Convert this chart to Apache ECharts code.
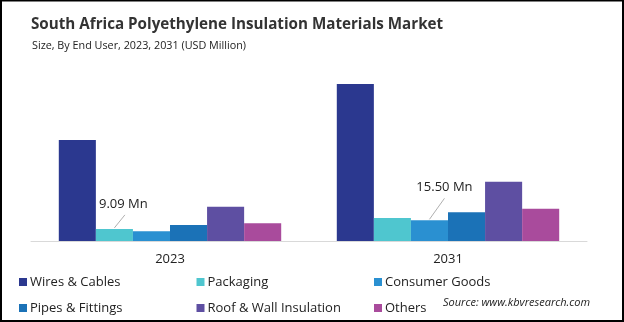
<!DOCTYPE html>
<html>
<head>
<meta charset="utf-8">
<script src="https://cdn.jsdelivr.net/npm/echarts@6/dist/echarts.min.js"></script>
<style>
  html, body { margin: 0; padding: 0; background: #fff; }
  #chart { width: 624px; height: 322px; }
</style>
</head>
<body>
<div id="chart"></div>
<script>
// Market size by end user (USD Million)
const years = ['2023', '2031'];
const segments = ['Wires & Cables', 'Packaging', 'Consumer Goods', 'Pipes & Fittings', 'Roof & Wall Insulation', 'Others'];
const wiresCables = [75.7, 117.8];
const packaging = [9.09, 17.3];
const consumerGoods = [7.3, 15.50];
const pipesFittings = [12.0, 21.6];
const roofWall = [25.6, 44.4];
const others = [13.3, 24.1];
// Callouts: [year index, segment index]
const callouts = [[0, 1], [1, 2]];

const seriesValues = [wiresCables, packaging, consumerGoods, pipesFittings, roofWall, others];
const colors = ['#2B388F', '#4FC6CF', '#2A90D1', '#1B72B7', '#5E4FA2', '#A94B9C'];
const FONT = '"Open Sans", "Noto Sans", sans-serif';
const GAP = 0.2;

// leader line end / text centre relative to the bar top
const calloutStyle = [
  { line: [10.5, -14], text: [9, -25] },
  { line: [15, -22], text: [15, -33] }
];

const barSeries = segments.map((name, i) => ({
  name: name,
  type: 'bar',
  data: seriesValues[i],
  barGap: '0%',
  barCategoryGap: (GAP * 100) + '%',
  itemStyle: { color: colors[i] },
  emphasis: { disabled: true }
}));

const calloutSeries = {
  type: 'custom',
  clip: false,
  z: 5,
  silent: true,
  data: callouts.map(c => [c[0], seriesValues[c[1]][c[0]], c[1]]),
  renderItem: function (params, api) {
    const band = api.size([1, 0])[0];
    const bw = band * (1 - GAP) / segments.length;
    const seg = api.value(2);
    const top = api.coord([api.value(0), api.value(1)]);
    const x = top[0] - band * (1 - GAP) / 2 + bw * (seg + 0.5);
    const y = top[1];
    const st = calloutStyle[params.dataIndex];
    return {
      type: 'group',
      children: [
        {
          type: 'line',
          shape: { x1: x, y1: y - 1, x2: x + st.line[0], y2: y + st.line[1] },
          style: { stroke: '#9a9a9a', lineWidth: 0.8 }
        },
        {
          type: 'text',
          x: x + st.text[0],
          y: y + st.text[1],
          style: {
            text: api.value(1).toFixed(2) + ' Mn',
            fill: '#222',
            font: '13px ' + FONT,
            align: 'center',
            verticalAlign: 'middle'
          }
        }
      ]
    };
  }
};

// legend laid out in a 3 x 2 grid
const legendCols = [19, 196.5, 374];
const legendRows = [275, 301];
const legends = segments.map((name, i) => ({
  data: [name],
  left: legendCols[i % 3],
  top: legendRows[Math.floor(i / 3)],
  padding: 0,
  icon: 'rect',
  itemWidth: 8,
  itemHeight: 8,
  selectedMode: false,
  textStyle: { fontFamily: FONT, fontSize: 13, color: '#222', lineHeight: 14, padding: [0, 0, 0, -2] }
}));

const chart = echarts.init(document.getElementById('chart'), null, { renderer: 'canvas' });
chart.setOption({
  animation: false,
  backgroundColor: '#fff',
  color: colors,
  title: [
    {
      text: 'South Africa Polyethylene Insulation Materials Market',
      left: 31,
      top: 17,
      padding: 0,
      textStyle: { fontFamily: FONT, fontSize: 15.2, fontWeight: 'bold', color: '#333' }
    },
    {
      text: 'Size, By End User, 2023, 2031 (USD Million)',
      left: 32,
      top: 40,
      padding: 0,
      textStyle: { fontFamily: FONT, fontSize: 10.8, fontWeight: 'normal', color: '#222' }
    }
  ],
  legend: legends,
  grid: { left: 31, right: 37, top: 81, height: 160 },
  xAxis: {
    type: 'category',
    data: years,
    axisTick: { show: false },
    axisLine: { lineStyle: { color: '#d9d9d9', width: 1 } },
    axisLabel: { fontFamily: FONT, fontSize: 13, color: '#222', margin: 12 }
  },
  yAxis: {
    type: 'value',
    min: 0,
    max: 120,
    show: false,
    splitLine: { show: false }
  },
  series: barSeries.concat([calloutSeries]),
  graphic: [
    {
      type: 'text',
      left: 443,
      top: 297,
      style: {
        text: 'Source: www.kbvresearch.com',
        fill: '#222',
        font: 'italic 11px ' + FONT
      }
    },
    {
      type: 'rect',
      shape: { x: 1, y: 0.5, width: 622, height: 320.5 },
      style: { fill: 'none', stroke: '#000', lineWidth: 2 },
      silent: true,
      z: 100
    }
  ]
});
</script>
</body>
</html>
